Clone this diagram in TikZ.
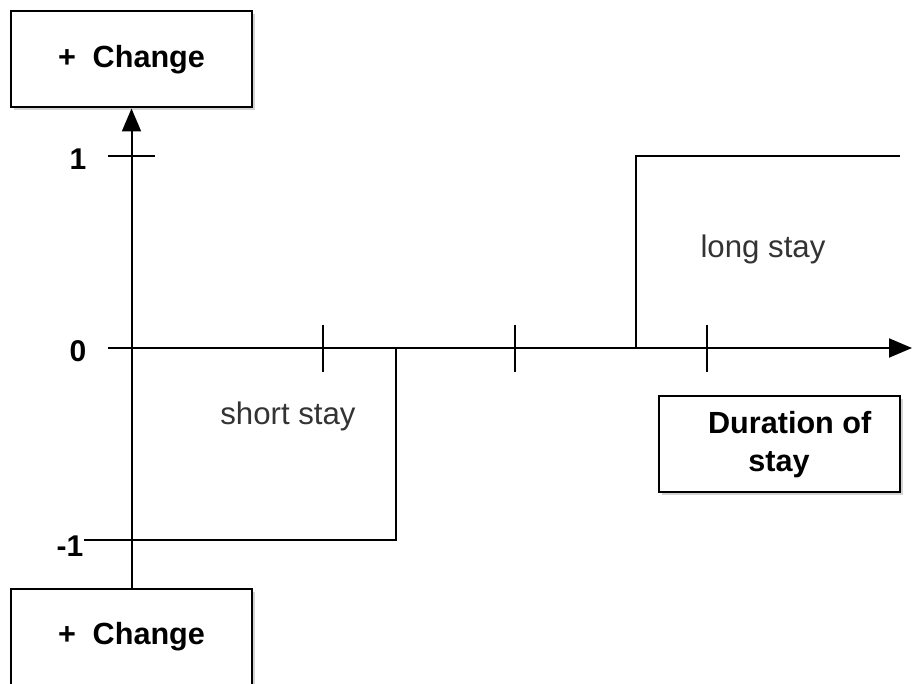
\documentclass[tikz,border=0pt]{standalone}
\usepackage{fontspec}
\setmainfont{Liberation Sans}
\usetikzlibrary{arrows.meta,shadows}
\begin{document}
\begin{tikzpicture}[x=0.5pt,y=-0.5pt,line width=1pt,
  box/.style={draw,fill=white,line width=1pt,minimum width=120.5pt,minimum height=48pt,
    inner sep=2pt,align=center,font=\fontsize{15.3}{19}\selectfont\bfseries,
    drop shadow={shadow xshift=1.5pt,shadow yshift=-1.5pt,opacity=0.35,fill=gray}},
  lab/.style={font=\fontsize{15}{17}\selectfont\bfseries,inner sep=0pt},
  note/.style={font=\fontsize{15.6}{17}\selectfont,text=black!80,inner sep=0pt},
  axis/.style={-{Triangle[length=11.5pt,width=9.5pt]}},
  tick/.style={line width=1pt}]
\useasboundingbox (0,0) rectangle (912,684);
% boxes
\node[box] (ctop) at (131.5,59.5) {+\hspace{0.55em}Change};
\node[box] (cbot) at (131.5,637) {+\hspace{0.55em}Change};
\node[box] (dur) at (779,444.5) {\hspace{0.7em}Duration of\\stay};
% axes
\coordinate (xstart) at (108,348);
\coordinate (xend) at (912,348);
\draw[axis] (cbot.north) -- (ctop.south);
\draw[axis] (xstart) -- (xend);
% ticks
\draw[tick] (108,156) -- (155,156);
\foreach \x in {323,515,707} \draw[tick] (\x,325) -- (\x,372);
% step lines
\draw (84,540) -- (396,540) -- (396,348);
\draw (636,348) -- (636,156) -- (900,156);
% labels
\node[lab] (l1) at (78,159) {1};
\node[lab] (l0) at (78,351) {0};
\node[lab] (lm1) at (70,546) {-1};
\node[note] (short) at (288,416) {short stay};
\node[note] (long) at (763,249) {long stay};
\end{tikzpicture}
\end{document}
